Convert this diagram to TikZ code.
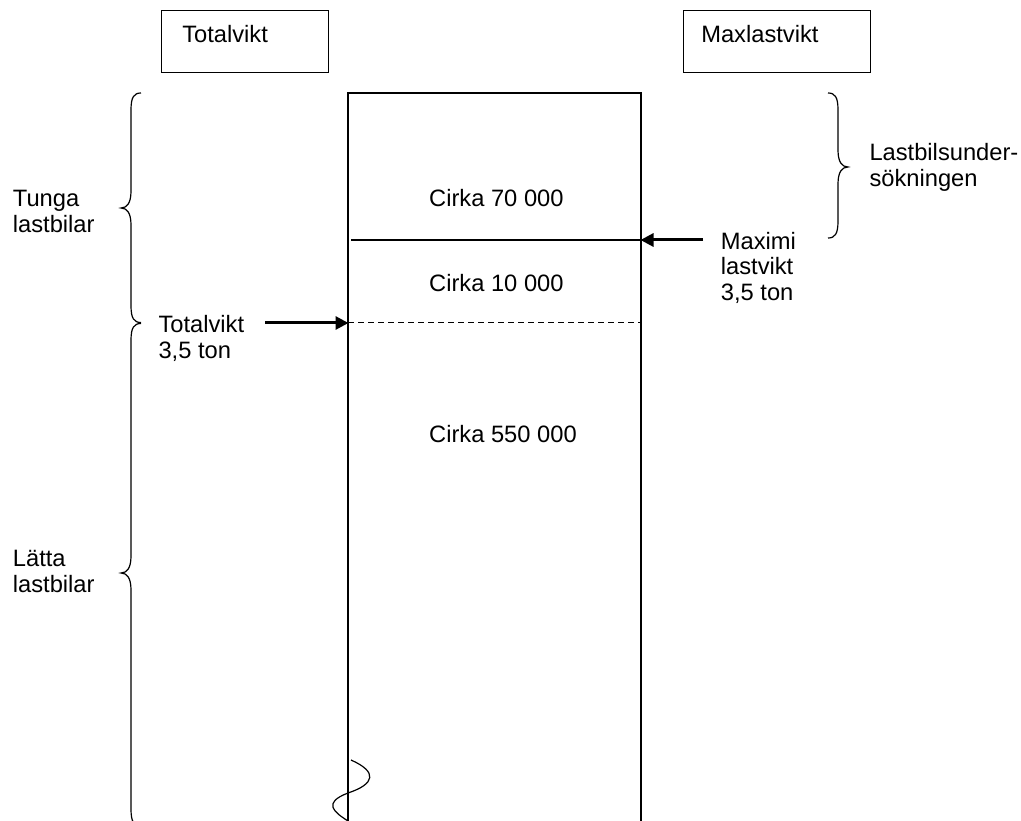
\documentclass[tikz,border=0pt]{standalone}
\usepackage{fontspec}
\setmainfont{Liberation Sans}
\usetikzlibrary{arrows.meta}
\tikzset{
  thin line/.style={line width=1.2pt},
  txt/.style={inner sep=0pt, anchor=base west, align=left, font=\fontsize{23.7}{25.7}\selectfont},
  headbox/.style={draw, thin line, anchor=north west, inner ysep=0pt, text height=31.7pt, text depth=30.3pt, font=\fontsize{23.7}{25.7}\selectfont, align=left},
  bigarrow/.style={line width=3pt, -{Triangle[length=13pt,width=13pt]}, shorten >=-0.5pt},
}
\newcommand\leftbrc[4]{% x, ytop, ybot, ymid
  \draw[thin line] (#1,#2) .. controls (#1-7,#2) and (#1-10,#2+4) .. (#1-10,#2+17)
    -- (#1-10,#4-17) .. controls (#1-10,#4-5) and (#1-14,#4) .. (#1-20,#4)
    .. controls (#1-14,#4) and (#1-10,#4+5) .. (#1-10,#4+17)
    -- (#1-10,#3-17) .. controls (#1-10,#3-4) and (#1-7,#3) .. (#1,#3);}
\newcommand\rightbrc[4]{% x, ytop, ybot, ymid
  \draw[thin line] (#1,#2) .. controls (#1+7,#2) and (#1+10,#2+4) .. (#1+10,#2+17)
    -- (#1+10,#4-17) .. controls (#1+10,#4-5) and (#1+14,#4) .. (#1+20,#4)
    .. controls (#1+14,#4) and (#1+10,#4+5) .. (#1+10,#4+17)
    -- (#1+10,#3-17) .. controls (#1+10,#3-4) and (#1+7,#3) .. (#1,#3);}
\begin{document}
\begin{tikzpicture}[x=1pt,y=-1pt]
\useasboundingbox (0,0) rectangle (1021,821);
\clip (0,0) rectangle (1021,821);
% header boxes
\node[headbox, inner xsep=20.7pt, text width=125.6pt] (boxTot) at (161,10) {Totalvikt};
\node[headbox, inner xsep=17.7pt, text width=151.6pt] (boxMax) at (683,10) {Maxlastvikt};
% main column
\coordinate (colTL) at (348,93);
\coordinate (colTR) at (641,93);
\coordinate (colBL) at (348,840);
\coordinate (colBR) at (641,840);
\draw[thin line] (colBL) -- (colTL) -- (colTR) -- (colBR);
% separators
\coordinate (solidL) at (351,240);
\coordinate (solidR) at (641,240);
\draw[thin line] (solidL) -- (solidR);
\coordinate (dashL) at (348,322.5);
\coordinate (dashR) at (641,322.5);
\draw[thin line, dash pattern=on 6pt off 4pt] (dashL) -- (dashR);
% texts in column
\node[txt] (c70) at (429,207) {Cirka 70 000};
\node[txt] (c10) at (429,292) {Cirka 10 000};
\node[txt] (c550) at (429,442) {Cirka 550 000};
% left labels (anchor = baseline of last line)
\node[txt] (tunga) at (12.7,232.6) {Tunga\\lastbilar};
\node[txt] (latta) at (12.7,592.6) {Lätta\\lastbilar};
\node[txt] (totlbl) at (158.3,358.4) {Totalvikt\\3,5 ton};
\node[txt] (maxlbl) at (720.7,300.7) {Maximi\\lastvikt\\3,5 ton};
\node[txt] (lbu) at (869.3,186.7) {Lastbilsunder-\\sökningen};
% arrows
\coordinate (ta) at (265,323);
\coordinate (tb) at (348,323);
\draw[bigarrow] (ta) -- (tb);
\coordinate (ma) at (703,240);
\coordinate (mb) at (641,240);
\draw[bigarrow] (ma) -- (mb);
% braces
\leftbrc{141}{93}{322.5}{208}
\leftbrc{141}{323.5}{826}{573}
\rightbrc{828}{93}{238}{167}
% squiggle at bottom
\draw[thin line] (351,760) .. controls (378,772) and (375,784) .. (348,793)
  .. controls (322,803) and (334,812) .. (348,821);
\end{tikzpicture}
\end{document}
